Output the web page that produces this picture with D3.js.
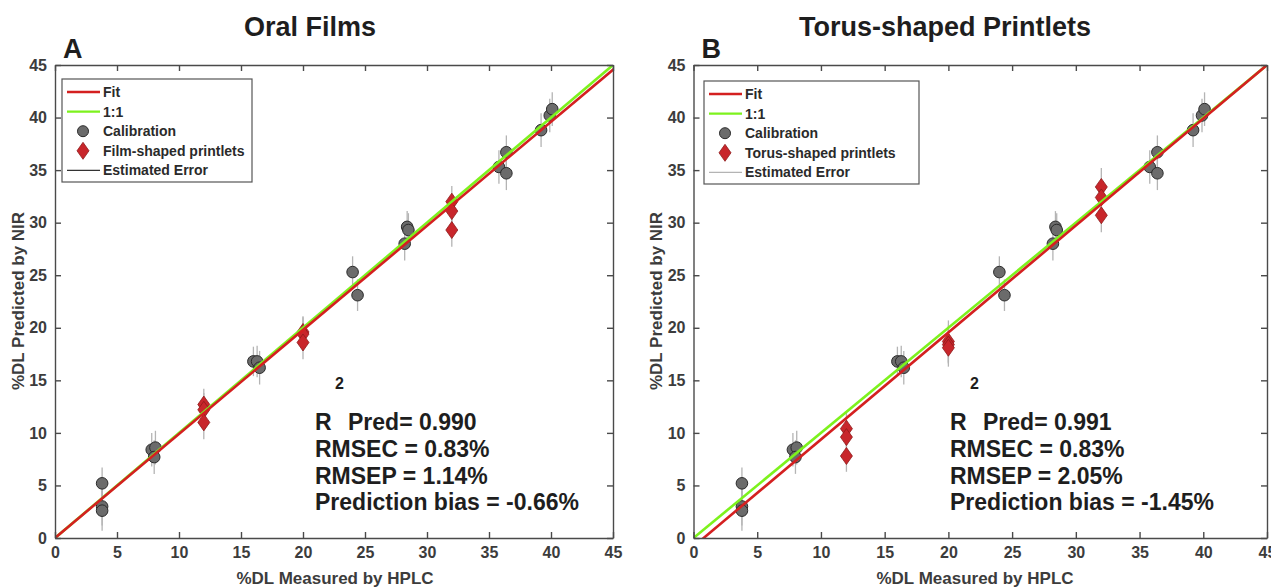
<!DOCTYPE html>
<meta charset="utf-8">
<head>
<script src="https://d3js.org/d3.v7.min.js"></script>
<style>
  body { margin: 0; background: #fff; }
  text { font-family: 'Liberation Sans', Arial, sans-serif; font-weight: bold; }
</style>
</head>
<body>
<div id="chart"></div>
<script>

// calibration samples, identical in both panels
var calX   = [3.8, 3.8, 3.8, 7.8, 8.1, 8.0, 16.0, 16.3, 16.5, 24.0, 24.4, 28.2, 28.4, 28.5, 35.8, 36.4, 36.4, 39.2, 39.9, 40.1]
var calY   = [5.2, 3.0, 2.6, 8.4, 8.6, 7.7, 16.8, 16.8, 16.2, 25.3, 23.1, 28.0, 29.6, 29.3, 35.3, 36.7, 34.7, 38.8, 40.2, 40.8]
var calErr = [1.5, 1.8, 1.9, 1.6, 1.6, 1.6, 1.4, 1.5, 1.6, 1.5, 1.5, 1.6, 1.5, 1.6, 1.6, 1.6, 1.6, 1.6, 1.6, 1.6]

// panel A : film-shaped printlets
var filmX   = [12, 12, 12, 20, 20, 20, 32, 32, 32]
var filmY   = [12.7, 12.2, 11.0, 19.6, 19.4, 18.6, 32.0, 31.1, 29.3]
var filmErr = [1.5, 1.6, 1.6, 1.5, 1.6, 1.6, 1.5, 1.6, 1.6]

// panel B : torus-shaped printlets
var torusX   = [12, 12, 12, 20, 20, 20, 32, 32, 32]
var torusY   = [10.4, 9.6, 7.8, 18.7, 18.4, 18.1, 33.4, 32.4, 30.7]
var torusErr = [1.6, 1.6, 1.5, 2.0, 1.8, 1.8, 1.8, 1.6, 1.6]

// fit lines  y = slope * x + intercept
var fitA = [0.99, 0.0]
var fitB = [1.018, -0.81]

var ticks = [0, 5, 10, 15, 20, 25, 30, 35, 40, 45]

var statsA = ["Pred= 0.990", "RMSEC = 0.83%", "RMSEP = 1.14%", "Prediction bias = -0.66%"]
var statsB = ["Pred= 0.991", "RMSEC = 0.83%", "RMSEP = 2.05%", "Prediction bias = -1.45%"]

var svg = d3.select("#chart").append("svg")
    .attr("width", 1271)
    .attr("height", 587)

var red = "#d42020", green = "#7df21d", grey = "#6b6b6b", diamondRed = "#c8262b"

function panel(p) {
    var x = d3.scaleLinear().domain([0, 45]).range([p.left, p.right])
    var y = d3.scaleLinear().domain([0, 45]).range([538, 65])
    var g = svg.append("g")

    g.append("clipPath").attr("id", "clip" + p.id)
        .append("rect")
        .attr("x", p.left).attr("y", 65)
        .attr("width", p.right - p.left).attr("height", 538 - 65)

    // error bars
    var pts = []
    calX.forEach(function(d, i) { pts.push({x: d, y: calY[i], e: calErr[i], t: "c"}) })
    p.sx.forEach(function(d, i) { pts.push({x: d, y: p.sy[i], e: p.se[i], t: "d"}) })

    g.selectAll(".err").data(pts).enter().append("line")
        .attr("x1", function(d) { return x(d.x) })
        .attr("x2", function(d) { return x(d.x) })
        .attr("y1", function(d) { return y(d.y - d.e) })
        .attr("y2", function(d) { return y(d.y + d.e) })
        .attr("stroke", "#b4b4b4")
        .attr("stroke-width", 1.3)

    // markers
    g.selectAll(".cal").data(pts.filter(function(d) { return d.t == "c" })).enter().append("circle")
        .attr("cx", function(d) { return x(d.x) })
        .attr("cy", function(d) { return y(d.y) })
        .attr("r", 5.8)
        .attr("fill", grey)
        .attr("stroke", "#2a2a2a")
        .attr("stroke-width", 1)

    var diamond = "M0,-8.5L6,0L0,8.5L-6,0Z"
    g.selectAll(".pr").data(pts.filter(function(d) { return d.t == "d" })).enter().append("path")
        .attr("d", diamond)
        .attr("transform", function(d) { return "translate(" + x(d.x) + "," + y(d.y) + ")" })
        .attr("fill", diamondRed)
        .attr("stroke", "#8e1a1a")
        .attr("stroke-width", 0.8)

    // 1:1 and fit lines
    var lines = g.append("g").attr("clip-path", "url(#clip" + p.id + ")")
    lines.append("line")
        .attr("x1", x(0)).attr("y1", y(0)).attr("x2", x(45)).attr("y2", y(45))
        .attr("stroke", green).attr("stroke-width", 2.6)
    lines.append("line")
        .attr("x1", x(-1)).attr("y1", y(p.fit[0] * -1 + p.fit[1]))
        .attr("x2", x(46)).attr("y2", y(p.fit[0] * 46 + p.fit[1]))
        .attr("stroke", red).attr("stroke-width", 2.6)

    // axes, ticks pointing inward
    var axisCol = "#4a4a4a"
    var bottom = g.append("g").attr("transform", "translate(0,538)")
        .call(d3.axisBottom(x).tickValues(ticks).tickSize(-6).tickSizeOuter(0).tickPadding(9))
    var left = g.append("g").attr("transform", "translate(" + p.left + ",0)")
        .call(d3.axisLeft(y).tickValues(ticks).tickSize(-6).tickSizeOuter(0).tickPadding(8))
    var top = g.append("g").attr("transform", "translate(0,65)")
        .call(d3.axisTop(x).tickValues(ticks).tickSize(-6).tickSizeOuter(0).tickFormat(""))
    var right = g.append("g").attr("transform", "translate(" + p.right + ",0)")
        .call(d3.axisRight(y).tickValues(ticks).tickSize(-6).tickSizeOuter(0).tickFormat(""))
    ;[bottom, left, top, right].forEach(function(a) {
        a.selectAll("path, line").attr("stroke", axisCol).attr("stroke-width", 1.4)
        a.selectAll("text").attr("fill", "#3c3c3c").style("font-size", "16px")
            .style("font-family", "'Liberation Sans', Arial, sans-serif").style("font-weight", "bold")
    })

    // axis labels
    g.append("text")
        .attr("x", p.xlabX).attr("y", 584)
        .attr("text-anchor", "middle")
        .style("font-size", "17px").attr("fill", "#3c3c3c")
        .text("%DL Measured by HPLC")
    g.append("text")
        .attr("transform", "translate(" + p.ylabX + ",301) rotate(-90)")
        .attr("text-anchor", "middle")
        .style("font-size", "17px").attr("fill", "#3c3c3c")
        .text("%DL Predicted by NIR")

    // title and panel letter
    g.append("text")
        .attr("x", p.titleX).attr("y", 36)
        .attr("text-anchor", "middle")
        .style("font-size", "27px").attr("fill", "#1e1e1e")
        .text(p.title)
    g.append("text")
        .attr("x", p.left + 8).attr("y", 58)
        .style("font-size", "27px").attr("fill", "#1e1e1e")
        .text(p.letter)

    // legend
    var lx = p.legX, ly = p.legY
    g.append("rect")
        .attr("x", lx).attr("y", ly).attr("width", p.legW).attr("height", 103)
        .attr("fill", "white").attr("stroke", "#555").attr("stroke-width", 1.2)
    var items = [
        {t: "line", c: red, label: "Fit"},
        {t: "line", c: green, label: "1:1"},
        {t: "circle", label: "Calibration"},
        {t: "diamond", label: p.legName},
        {t: "err", c: p.errCol, label: "Estimated Error"}
    ]
    items.forEach(function(it, i) {
        var cy = ly + 13 + i * 19.6
        if (it.t == "line" || it.t == "err") {
            g.append("line")
                .attr("x1", lx + 5).attr("x2", lx + 38).attr("y1", cy).attr("y2", cy)
                .attr("stroke", it.c).attr("stroke-width", it.t == "err" ? 1.2 : 2.4)
        } else if (it.t == "circle") {
            g.append("circle").attr("cx", lx + 21).attr("cy", cy).attr("r", 5.5)
                .attr("fill", grey).attr("stroke", "#2a2a2a")
        } else {
            g.append("path").attr("d", diamond)
                .attr("transform", "translate(" + (lx + 21) + "," + cy + ")")
                .attr("fill", diamondRed).attr("stroke", "#8e1a1a").attr("stroke-width", 0.8)
        }
        g.append("text")
            .attr("x", lx + 41).attr("y", cy + 5)
            .style("font-size", "14px").attr("fill", "#2a2a2a")
            .text(it.label)
    })

    // statistics block
    var sx = p.statX
    g.append("text").attr("x", sx).attr("y", 430)
        .style("font-size", "23px").attr("fill", "#1e1e1e").text("R")
    g.append("text").attr("x", sx + 20).attr("y", 389)
        .style("font-size", "16px").attr("fill", "#1e1e1e").text("2")
    g.append("text").attr("x", sx + 33).attr("y", 430)
        .style("font-size", "23px").attr("fill", "#1e1e1e").text(p.stats[0])
    p.stats.slice(1).forEach(function(s, i) {
        g.append("text").attr("x", sx).attr("y", 457 + i * 26.5)
            .style("font-size", "23px").attr("fill", "#1e1e1e").text(s)
    })
}

panel({id: "A", left: 55, right: 613, sx: filmX, sy: filmY, se: filmErr, fit: fitA,
       title: "Oral Films", titleX: 310, letter: "A", xlabX: 335, ylabX: 24,
       legX: 62, legY: 79, legW: 190, legName: "Film-shaped printlets", errCol: "#333",
       statX: 315, stats: statsA})
panel({id: "B", left: 693.5, right: 1267, sx: torusX, sy: torusY, se: torusErr, fit: fitB,
       title: "Torus-shaped Printlets", titleX: 945, letter: "B", xlabX: 975, ylabX: 662,
       legX: 704, legY: 81, legW: 215, legName: "Torus-shaped printlets", errCol: "#b4b4b4",
       statX: 950, stats: statsB})

</script>
</body>
